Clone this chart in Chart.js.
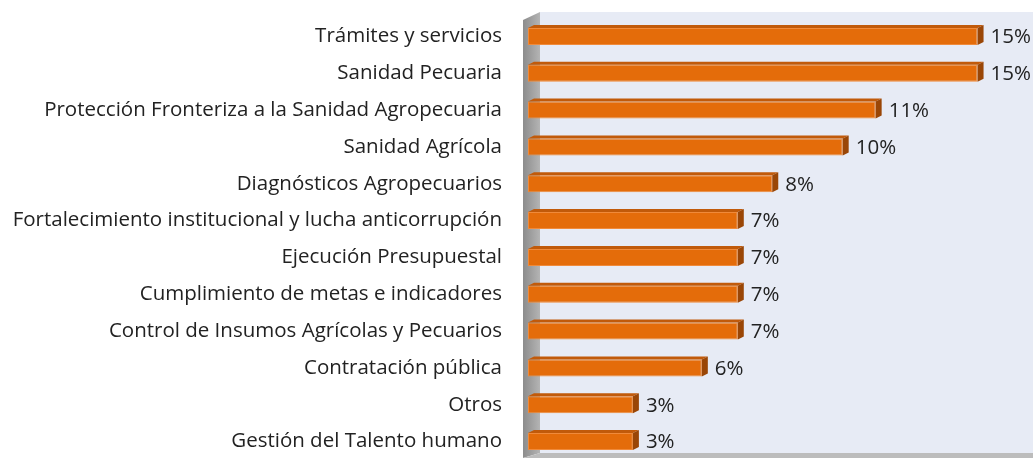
<!DOCTYPE html>
<html>
<head>
<meta charset="utf-8">
<script src="https://cdn.jsdelivr.net/npm/chart.js@4.4.1/dist/chart.umd.min.js"></script>
<style>
  html, body { margin: 0; padding: 0; background: #ffffff; }
  #wrap { width: 1033px; height: 460px; position: relative; }
</style>
</head>
<body>
<div id="wrap"><canvas id="temasChart" width="1033" height="460"></canvas></div>
<script>
const categories = [
    'Trámites y servicios',
    'Sanidad Pecuaria',
    'Protección Fronteriza a la Sanidad Agropecuaria',
    'Sanidad Agrícola',
    'Diagnósticos Agropecuarios',
    'Fortalecimiento institucional y lucha anticorrupción',
    'Ejecución Presupuestal',
    'Cumplimiento de metas e indicadores',
    'Control de Insumos Agrícolas y Pecuarios',
    'Contratación pública',
    'Otros',
    'Gestión del Talento humano'
];
// bar lengths (percent)
const shares = [15.0, 15.0, 11.6, 10.5, 8.15, 7.0, 7.0, 7.0, 7.0, 5.8, 3.5, 3.5];
// labels printed next to each bar
const shareLabels = ['15%', '15%', '11%', '10%', '8%', '7%', '7%', '7%', '7%', '6%', '3%', '3%'];

document.addEventListener('DOMContentLoaded', function() {
    const ctx = document.getElementById('temasChart');
    const family = '"Open Sans", "Noto Sans", sans-serif';

    // pick a font size so the longest label spans about 492px, like the original
    const probe = document.createElement('canvas').getContext('2d');
    let fontSize = 20;
    for (let s = 22; s >= 12; s -= 0.5) {
        probe.font = s + 'px ' + family;
        const w = Math.max(...categories.map(c => probe.measureText(c).width));
        if (w <= 492) { fontSize = s; break; }
    }

    const depth = { dx: 6, dy: 3 };

    const walls = {
        id: 'walls',
        beforeDatasetsDraw(chart) {
            const c = chart.ctx;
            const a = chart.chartArea;
            const wallFront = a.left - 5;
            const wallBack = a.left + 12;
            const top = a.top - 6;
            const floor = a.bottom - 7;
            const front = a.bottom - 2;
            c.save();
            // back wall
            c.fillStyle = '#e7ebf5';
            c.fillRect(wallBack, top, a.right + 10 - wallBack, floor - top);
            // left side wall
            const g = c.createLinearGradient(wallFront, 0, wallBack, 0);
            g.addColorStop(0, '#8c8c8c');
            g.addColorStop(1, '#b4b4b4');
            c.fillStyle = g;
            c.beginPath();
            c.moveTo(wallFront, top + 8);
            c.lineTo(wallBack, top);
            c.lineTo(wallBack, floor);
            c.lineTo(wallFront, front);
            c.closePath();
            c.fill();
            // floor
            c.fillStyle = '#bcbcbc';
            c.beginPath();
            c.moveTo(wallBack, floor);
            c.lineTo(a.right + 10, floor);
            c.lineTo(a.right + 10, front);
            c.lineTo(wallFront, front);
            c.closePath();
            c.fill();
            c.restore();
        }
    };

    const bars3d = {
        id: 'bars3d',
        afterDatasetsDraw(chart) {
            const c = chart.ctx;
            const meta = chart.getDatasetMeta(0);
            c.save();
            meta.data.forEach((bar, i) => {
                const p = bar.getProps(['x', 'y', 'base', 'height'], true);
                const top = p.y - p.height / 2;
                const bottom = p.y + p.height / 2;
                // top face
                c.fillStyle = '#c15a0a';
                c.beginPath();
                c.moveTo(p.base, top);
                c.lineTo(p.base + depth.dx, top - depth.dy);
                c.lineTo(p.x + depth.dx, top - depth.dy);
                c.lineTo(p.x, top);
                c.closePath();
                c.fill();
                // side face
                c.fillStyle = '#9a4606';
                c.beginPath();
                c.moveTo(p.x, top);
                c.lineTo(p.x + depth.dx, top - depth.dy);
                c.lineTo(p.x + depth.dx, bottom - depth.dy);
                c.lineTo(p.x, bottom);
                c.closePath();
                c.fill();
                // value label
                c.fillStyle = '#222222';
                c.font = fontSize + 'px ' + family;
                c.textAlign = 'left';
                c.textBaseline = 'middle';
                c.fillText(shareLabels[i], p.x + 13, p.y + 1);
            });
            c.restore();
        }
    };

    new Chart(ctx, {
        type: 'bar',
        data: {
            labels: categories,
            datasets: [{
                data: shares,
                backgroundColor: '#e46c0a',
                borderColor: '#f08a3a',
                borderWidth: 1,
                borderSkipped: false,
                barPercentage: 0.46,
                categoryPercentage: 1
            }]
        },
        options: {
            indexAxis: 'y',
            responsive: false,
            animation: false,
            layout: { padding: { top: 18, right: 0, bottom: -2, left: 0 } },
            plugins: {
                legend: { display: false },
                tooltip: { enabled: false }
            },
            scales: {
                x: {
                    display: false,
                    min: 0,
                    max: 16.85
                },
                y: {
                    grid: { display: false, drawTicks: false },
                    border: { display: false },
                    afterFit(scale) {
                        scale.width = 528;
                        scale.paddingTop = 0;
                        scale.paddingBottom = 0;
                    },
                    ticks: {
                        padding: 26,
                        color: '#222222',
                        font: { size: fontSize, family: family }
                    }
                }
            }
        },
        plugins: [walls, bars3d]
    });
});
</script>
</body>
</html>
